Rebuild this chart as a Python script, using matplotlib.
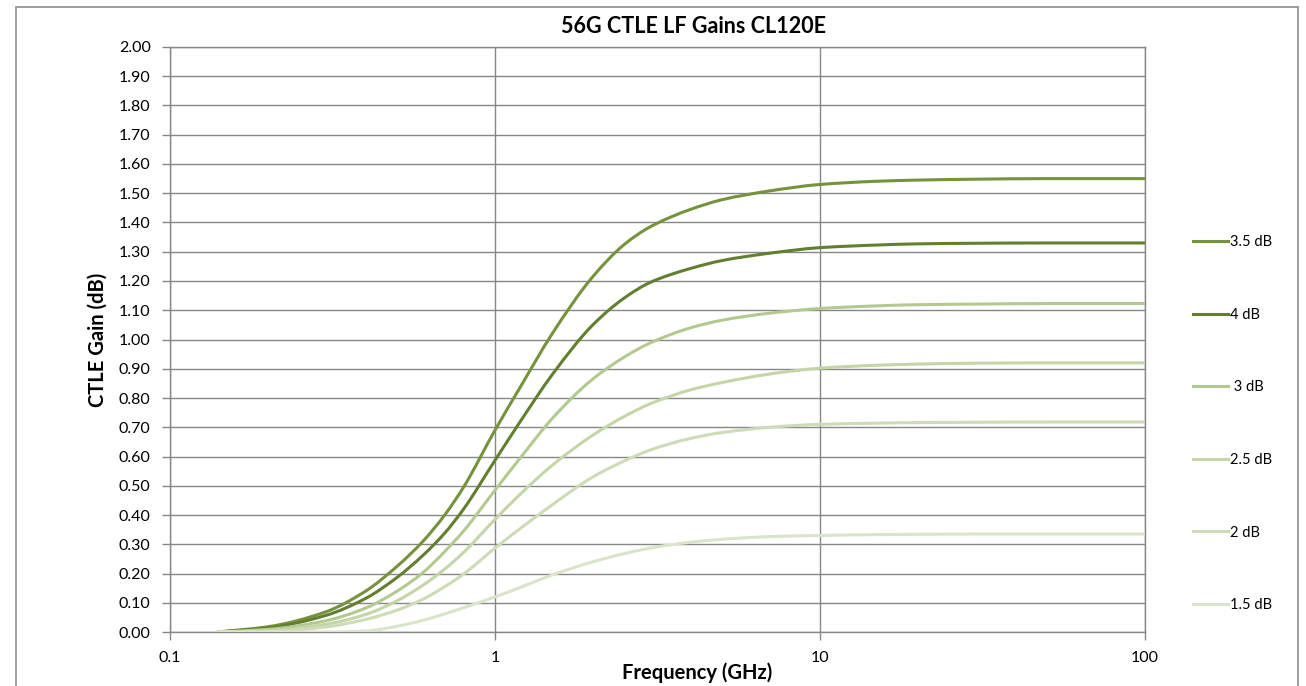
import matplotlib
matplotlib.use('Agg')
import numpy as np
import matplotlib.pyplot as plt
from matplotlib.patches import Rectangle, PathPatch
from matplotlib.path import Path
from matplotlib.lines import Line2D
from matplotlib.ticker import FixedLocator, FixedFormatter, NullLocator

plt.rcParams['font.family'] = ['Lato', 'DejaVu Sans']

# --- Data (frequency in GHz, gain in dB) ---
freq_ghz = [0.14, 0.2, 0.3, 0.4, 0.5, 0.6, 0.7, 0.8, 1.0, 1.2, 1.5, 2, 2.5, 3,
            4, 5, 7, 10, 15, 20, 30, 50, 100]

gain_35 = [0.0, 0.018, 0.068, 0.14, 0.225, 0.31, 0.40, 0.495, 0.69, 0.84, 1.02,
           1.215, 1.325, 1.385, 1.445, 1.478, 1.508, 1.53, 1.541, 1.545, 1.548, 1.55, 1.55]
gain_4 = [0.0, 0.014, 0.056, 0.115, 0.187, 0.262, 0.338, 0.42, 0.587, 0.722, 0.88,
          1.05, 1.142, 1.195, 1.243, 1.27, 1.295, 1.314, 1.323, 1.327, 1.329, 1.33, 1.33]
gain_3 = [0.0, 0.009, 0.038, 0.082, 0.14, 0.203, 0.275, 0.345, 0.485, 0.597, 0.73,
          0.865, 0.94, 0.988, 1.04, 1.066, 1.09, 1.106, 1.115, 1.119, 1.121, 1.123, 1.123]
gain_25 = [0.0, 0.005, 0.026, 0.06, 0.107, 0.16, 0.215, 0.272, 0.385, 0.473, 0.57,
           0.673, 0.737, 0.78, 0.828, 0.853, 0.882, 0.902, 0.912, 0.916, 0.919, 0.92, 0.92]
gain_2 = [0.0, 0.002, 0.017, 0.043, 0.075, 0.112, 0.155, 0.198, 0.287, 0.355, 0.435,
          0.53, 0.585, 0.622, 0.662, 0.682, 0.70, 0.71, 0.714, 0.716, 0.717, 0.718, 0.718]
gain_15 = [0.0, 0.0, 0.0, 0.003, 0.02, 0.04, 0.062, 0.083, 0.12, 0.153, 0.195,
           0.24, 0.268, 0.287, 0.307, 0.317, 0.326, 0.33, 0.333, 0.334, 0.335, 0.335, 0.335]

series_labels = ['3.5 dB', '4 dB', ' 3 dB', '2.5 dB', '2 dB', '1.5 dB']
series_values = [gain_35, gain_4, gain_3, gain_25, gain_2, gain_15]
series_colors = ['#76923c', '#627f2f', '#b4c98f', '#c4d6a8', '#cddbb6', '#d9e4c9']

y_ticks = [i / 10 for i in range(21)]
x_ticks = [0.1, 1, 10, 100]
x_tick_labels = ['0.1', '1', '10', '100']

GRID = '#878787'


def smooth_path(xs, ys):
    """Smoothed line through the points: monotone cubic (as Bezier) in log-x space."""
    x = np.log10(np.asarray(xs, float))
    y = np.asarray(ys, float)
    h = np.diff(x)
    d = np.diff(y) / h
    m = np.zeros_like(y)
    m[0], m[-1] = d[0], d[-1]
    for k in range(1, len(y) - 1):
        if d[k - 1] * d[k] > 0:
            w1 = 2 * h[k] + h[k - 1]
            w2 = h[k] + 2 * h[k - 1]
            m[k] = (w1 + w2) / (w1 / d[k - 1] + w2 / d[k])
    verts = [(x[0], y[0])]
    codes = [Path.MOVETO]
    for k in range(len(y) - 1):
        verts += [(x[k] + h[k] / 3, y[k] + m[k] * h[k] / 3),
                  (x[k + 1] - h[k] / 3, y[k + 1] - m[k + 1] * h[k] / 3),
                  (x[k + 1], y[k + 1])]
        codes += [Path.CURVE4] * 3
    verts = np.array(verts)
    verts[:, 0] = 10 ** verts[:, 0]
    return Path(verts, codes)


# --- Figure ---
fig = plt.figure(figsize=(13.06, 6.86), dpi=100)
ax = fig.add_axes([0.1302, 0.0787, 0.7465, 0.8528])
ax.set_xscale('log')
ax.set_xlim(0.1, 100)
ax.set_ylim(0, 2.0)

handles = []
for label, vals, color in zip(series_labels, series_values, series_colors):
    ax.add_patch(PathPatch(smooth_path(freq_ghz, vals), fill=False, edgecolor=color,
                           lw=2.2, capstyle='butt', joinstyle='round', zorder=3))
    handles.append(Line2D([], [], color=color, lw=2.2, label=label))

ax.xaxis.set_major_locator(FixedLocator(x_ticks))
ax.xaxis.set_major_formatter(FixedFormatter(x_tick_labels))
ax.xaxis.set_minor_locator(NullLocator())
ax.set_yticks(y_ticks)
ax.set_yticklabels([f'{v:.2f}' for v in y_ticks])

ax.grid(True, which='major', color=GRID, lw=1.0, zorder=1)
for s in ax.spines.values():
    s.set_color(GRID)
    s.set_linewidth(1.0)
ax.tick_params(axis='both', which='major', direction='out', length=6,
               color=GRID, width=1.0, labelsize=11.5, labelcolor='black')
ax.tick_params(axis='x', pad=8)
ax.tick_params(axis='y', pad=8)

# titles
fig.text(0.531, 0.962, '56G CTLE LF Gains CL120E', fontsize=15.5, fontweight='bold',
         ha='center', va='center')
fig.text(0.534, 0.020, 'Frequency (GHz)', fontsize=14.5, fontweight='bold',
         ha='center', va='center')
fig.text(0.0745, 0.505, 'CTLE Gain (dB)', fontsize=14.5, fontweight='bold',
         ha='center', va='center', rotation=90)

fig.legend(handles=handles, loc='center left', bbox_to_anchor=(0.9035, 0.3825),
           frameon=False, fontsize=10.5, handlelength=2.4, handletextpad=0.1,
           labelspacing=4.02)

# chart area border
fig.patches.append(Rectangle((0.01225, -0.02), 0.98162, 1.0098, transform=fig.transFigure,
                             fill=False, edgecolor='#8c8c8c', lw=1.2))

fig.savefig('out.png', dpi=100)
